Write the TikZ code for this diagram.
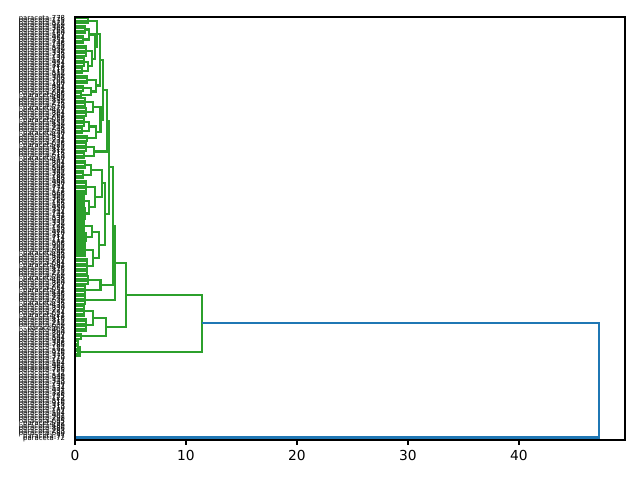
\documentclass[tikz,border=0pt]{standalone}
\usepackage{fontspec}
\setmainfont{DejaVu Sans}
\usetikzlibrary{calc}

\definecolor{mplgreen}{HTML}{2CA02C}
\definecolor{mplblue}{HTML}{1F77B4}
\definecolor{mplorange}{HTML}{FF7F0E}

\tikzset{
  glink/.style={mplgreen, line width=1.48pt, line cap=butt, line join=miter},
  blink/.style={mplblue, line width=1.48pt, line cap=butt, line join=miter},
  zlink/.style={mplorange, line width=1.48pt},
  spine/.style={black, line width=0.79pt},
  tickline/.style={black, line width=0.79pt},
  ticklbl/.style={font=\fontsize{9.8}{10}\selectfont, inner sep=0pt},
  leaflbl/.style={font=\fontsize{4.9}{5}\selectfont, inner sep=0pt}
}

% comb of leaves: first, last, height, name
\newcommand{\comb}[4]{%
  \draw[glink] (l#1) -- (#3,0 |- l#1) -- (#3,0 |- l#2) -- (l#2);
  \foreach \k in {#1,...,#2}{\draw[glink] (l\k) -- (#3,0 |- l\k);}
  \coordinate (#4) at (#3,{(#1+#2)/2+0.5});
}
% link of two clusters: [style], a, b, height, name
\newcommand{\merge}[5][glink]{%
  \draw[#1] (#2) -- (#4,0 |- #2) -- (#4,0 |- #3) -- (#3);
  \coordinate (tmp) at ($(#2)!0.5!(#3)$);
  \coordinate (#5) at (#4,0 |- tmp);
}

\begin{document}
\begin{tikzpicture}
  \useasboundingbox (0,0) rectangle (16,12);
  \begin{scope}[shift={(1.875,11.575)}, x=0.2775cm, y=-0.062574cm]
  % Leaves
  \foreach \k in {0,...,168} \coordinate (l\k) at (0,\k+0.5);

  % Zero-height cluster
  \draw[zlink] (l136) -- (l168);
  \coordinate (zro) at (0,168);

  % Top staircase
  \comb{0}{2}{1.2}{t0}
  \comb{3}{6}{0.9}{g1} \comb{7}{10}{0.7}{g2} \merge{g1}{g2}{1.3}{h1}
  \comb{11}{15}{1.0}{g3} \comb{16}{19}{0.8}{g4} \comb{20}{22}{0.6}{g5}
  \merge{g4}{g5}{1.2}{h2} \merge{g3}{h2}{1.5}{h3} \merge{h1}{h3}{1.8}{b1}
  \merge{t0}{b1}{2.0}{c1}

  \comb{23}{26}{1.1}{g6} \comb{27}{29}{0.7}{g7} \comb{30}{31}{0.5}{g8}
  \merge{g7}{g8}{1.4}{h4} \merge{g6}{h4}{1.9}{b2}
  \merge{c1}{b2}{2.25}{c2}

  \comb{32}{35}{0.9}{g9} \comb{36}{39}{1.0}{g10} \merge{g9}{g10}{1.6}{h5}
  \comb{40}{43}{0.8}{g11} \comb{44}{46}{0.6}{g12} \merge{g11}{g12}{1.3}{h6}
  \comb{47}{49}{1.1}{g13} \merge{h6}{g13}{1.9}{h7} \merge{h5}{h7}{2.3}{b3}
  \merge{c2}{b3}{2.5}{c3}

  \comb{50}{53}{1.0}{g14} \comb{54}{56}{0.8}{g15} \merge{g14}{g15}{1.7}{b4}
  \merge{c3}{b4}{2.85}{c4}

  % Middle block
  \comb{57}{60}{0.9}{g16} \comb{61}{64}{0.7}{g17} \merge{g16}{g17}{1.4}{h8}
  \comb{65}{70}{1.0}{g18} \comb{71}{75}{0.8}{g19} \comb{76}{80}{0.9}{g20}
  \merge{g19}{g20}{1.3}{h9} \merge{g18}{h9}{1.8}{h10} \merge{h8}{h10}{2.4}{h11}
  \comb{81}{85}{0.8}{g21} \comb{86}{89}{1.0}{g22} \merge{g21}{g22}{1.5}{h12}
  \comb{90}{95}{0.9}{g23} \comb{96}{102}{1.1}{g24} \merge{g23}{g24}{1.6}{h13}
  \merge{h12}{h13}{2.2}{h14} \merge{h11}{h14}{2.7}{b5}
  \merge{c4}{b5}{3.05}{c5}

  \comb{103}{106}{1.2}{g25} \comb{107}{110}{0.9}{g26} \merge{g25}{g26}{2.3}{q1}
  \merge{c5}{q1}{3.45}{c6}
  \comb{111}{114}{0.9}{q2}
  \merge{c6}{q2}{3.6}{a1}

  % Lower block
  \comb{115}{119}{0.8}{g27} \comb{120}{125}{1.0}{g28} \merge{g27}{g28}{1.6}{h15}
  \comb{126}{128}{0.5}{g29} \merge{h15}{g29}{2.8}{a2}
  \merge{a1}{a2}{4.6}{a0}

  \comb{129}{134}{0.3}{g30} \merge{g30}{l135}{0.45}{bb}
  \merge{a0}{bb}{11.4}{grn}

  % Root
  \merge[blink]{grn}{zro}{47.2}{root}

  % Axes
  \draw[spine] (0,0) rectangle (49.55,169);
  \foreach \v in {0,10,20,30,40}
    \draw[tickline] (\v,169) -- ++(0,-3.44pt)
      node[ticklbl, anchor=north, yshift=-3.44pt] (xt\v) {\v};
  \foreach \k in {0,...,168}{
    \edef\num{\the\numexpr 778+397*\k-1000*((278+397*\k)/1000)\relax}
    \ifnum\k=168 \def\num{72}\fi
    \node[leaflbl, anchor=east, xshift=-6.88pt] (lb\k) at (l\k) {paraceta-\num};
  }
  \end{scope}
\end{tikzpicture}
\end{document}
